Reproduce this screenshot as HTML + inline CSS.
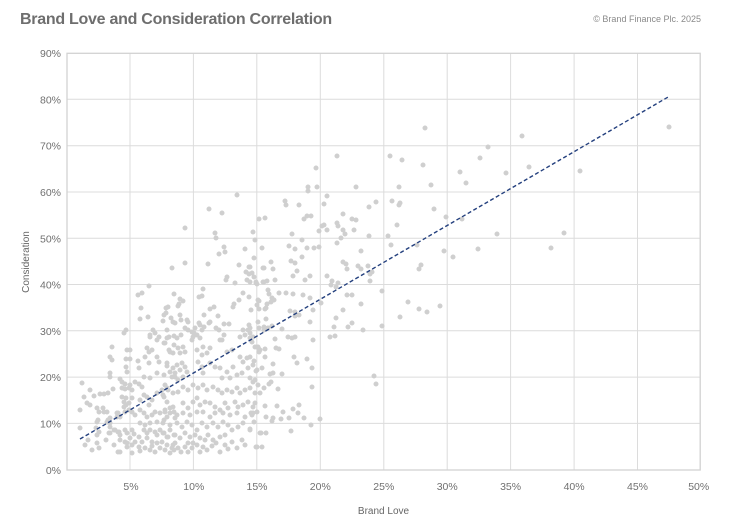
<!DOCTYPE html>
<html><head><meta charset="utf-8"><style>
html,body{margin:0;padding:0;background:#fff;}
svg{display:block;}
text{font-family:"Liberation Sans",Arial,sans-serif;}
</style></head><body>
<svg width="732" height="520" viewBox="0 0 732 520" xmlns="http://www.w3.org/2000/svg">
<rect width="732" height="520" fill="#fff"/>
<text x="20" y="24" font-size="16" font-weight="bold" letter-spacing="-0.27" fill="#6e6e6e">Brand Love and Consideration Correlation</text>
<text x="701" y="22" font-size="9" text-anchor="end" fill="#8a8a8a">© Brand Finance Plc. 2025</text>
<g stroke="#dcdcdc" stroke-width="1">
<line x1="67" y1="99.3" x2="700" y2="99.3"/>
<line x1="67" y1="145.7" x2="700" y2="145.7"/>
<line x1="67" y1="192" x2="700" y2="192"/>
<line x1="67" y1="238.3" x2="700" y2="238.3"/>
<line x1="67" y1="284.5" x2="700" y2="284.5"/>
<line x1="67" y1="330.8" x2="700" y2="330.8"/>
<line x1="67" y1="377.1" x2="700" y2="377.1"/>
<line x1="67" y1="423.4" x2="700" y2="423.4"/>
<line x1="130" y1="53" x2="130" y2="470"/>
<line x1="193.4" y1="53" x2="193.4" y2="470"/>
<line x1="256.8" y1="53" x2="256.8" y2="470"/>
<line x1="320.3" y1="53" x2="320.3" y2="470"/>
<line x1="383.8" y1="53" x2="383.8" y2="470"/>
<line x1="447.2" y1="53" x2="447.2" y2="470"/>
<line x1="510.6" y1="53" x2="510.6" y2="470"/>
<line x1="574.1" y1="53" x2="574.1" y2="470"/>
<line x1="637.5" y1="53" x2="637.5" y2="470"/>
</g>
<rect x="67" y="53.3" width="633.2" height="416.7" fill="none" stroke="#d2d2d2" stroke-width="1.3"/>
<g font-size="10.5" fill="#707070" text-anchor="end">
<text x="61" y="57">90%</text>
<text x="61" y="103.3">80%</text>
<text x="61" y="149.7">70%</text>
<text x="61" y="196">60%</text>
<text x="61" y="242.3">50%</text>
<text x="61" y="288.5">40%</text>
<text x="61" y="334.8">30%</text>
<text x="61" y="381.1">20%</text>
<text x="61" y="427.4">10%</text>
<text x="61" y="474">0%</text>
</g>
<g font-size="10.5" fill="#707070" text-anchor="middle">
<text x="131" y="490">5%</text>
<text x="193.8" y="490">10%</text>
<text x="257" y="490">15%</text>
<text x="320.3" y="490">20%</text>
<text x="383.8" y="490">25%</text>
<text x="447.2" y="490">30%</text>
<text x="510.6" y="490">35%</text>
<text x="574.1" y="490">40%</text>
<text x="637.5" y="490">45%</text>
<text x="698.7" y="490">50%</text>
</g>
<text x="383.5" y="514" font-size="10" fill="#666" text-anchor="middle">Brand Love</text>
<text x="0" y="0" font-size="10" fill="#666" text-anchor="middle" transform="translate(29 262) rotate(-90)">Consideration</text>
<path fill="none" stroke="#cfcfcf" stroke-width="5" stroke-linecap="round" d="
M669 127h.01M522 136h.01M488 147h.01M480 158h.01M460 172h.01M466 183h.01M506 173h.01M529 167h.01M580 171h.01M446 217h.01M462 219h.01M497 234h.01M444 251h.01M453 257h.01M478 249h.01M551 248h.01M564 233h.01M440 306h.01
M425 128h.01M337 156h.01M316 168h.01M390 156h.01M402 160h.01M423 165h.01M317 187h.01M356 187h.01M399 187h.01M431 185h.01M308 187h.01M308 191h.01M285 201h.01M286 205h.01M299 205h.01M327 196h.01M324 204h.01M369 207h.01M376 202h.01M392 201h.01M400 203h.01M399 205h.01M434 209h.01M259 219h.01M265 218h.01M253 232h.01M255 240h.01M304 219h.01M307 216h.01M311 216h.01M292 234h.01M302 240h.01M319 231h.01M322 226h.01M324 225h.01M327 230h.01M337 223h.01M338 226h.01M343 230h.01M345 234h.01M343 214h.01M352 219h.01M356 220h.01M354 230h.01M369 236h.01M397 225h.01M388 236h.01M391 245h.01M417 245h.01M419 269h.01M421 265h.01M262 248h.01M289 246h.01M295 249h.01M307 248h.01M314 248h.01M319 247h.01M337 243h.01M341 238h.01M254 258h.01M263 268h.01M273 269h.01M271 262h.01M291 261h.01M295 263h.01M302 257h.01M297 271h.01M293 276h.01M310 276h.01M305 280h.01M327 276h.01M332 281h.01M331 285h.01M338 283h.01M343 262h.01M346 264h.01M347 269h.01M361 251h.01M358 266h.01M361 269h.01M368 266h.01M372 272h.01M370 274h.01M370 281h.01M275 280h.01M263 282h.01M267 281h.01M256 282h.01M257 284h.01M250 267h.01M252 273h.01M254 277h.01
M268 290h.01M269 294h.01M272 298h.01M274 300h.01M271 302h.01M267 304h.01M265 309h.01M279 293h.01M286 293h.01M293 294h.01M303 295h.01M310 298h.01M321 303h.01M313 310h.01M336 287h.01M347 295h.01M352 295h.01M361 304h.01M343 310h.01M336 318h.01M334 327h.01M348 327h.01M352 323h.01M363 330h.01M330 337h.01M335 336h.01M382 291h.01M382 326h.01M408 302h.01M419 309h.01M427 312h.01M400 317h.01M374 376h.01M376 384h.01M320 419h.01M311 425h.01M291 431h.01M261 433h.01M266 433h.01M256 447h.01M262 447h.01M312 387h.01M312 368h.01M299 405h.01M304 418h.01M298 413h.01M293 409h.01M283 412h.01M289 418h.01M281 419h.01M277 406h.01M265 406h.01M266 417h.01M273 418h.01M272 421h.01M254 422h.01M253 413h.01M251 413h.01M255 403h.01M250 429h.01M264 388h.01M278 389h.01M269 384h.01M271 382h.01M273 373h.01M270 374h.01M282 374h.01M257 370h.01M256 371h.01M253 382h.01M255 380h.01M273 364h.01M265 357h.01M254 361h.01M294 357h.01M297 363h.01M307 359h.01M276 348h.01M279 349h.01M275 339h.01M265 349h.01M259 352h.01M255 347h.01M258 347h.01M259 349h.01M250 357h.01M313 340h.01M288 337h.01M292 338h.01M295 337h.01M282 329h.01M264 327h.01M268 328h.01M272 326h.01M258 322h.01M266 319h.01M250 328h.01M253 337h.01M250 338h.01M266 308h.01M251 310h.01M257 305h.01M258 300h.01M290 311h.01M295 312h.01M299 315h.01M295 316h.01M310 322h.01
M237 195h.01M209 209h.01M222 213h.01M185 228h.01
M215 233h.01M216 238h.01M224 247h.01M225 252h.01M219 254h.01M245 249h.01M253 232h.01M185 263h.01M172 268h.01M208 264h.01M239 265h.01M249 267h.01M264 268h.01M227 277h.01M226 280h.01M235 283h.01M246 272h.01M249 274h.01M247 280h.01M250 282h.01M256 283h.01M264 282h.01M149 286h.01M138 295h.01M142 293h.01M203 289h.01M202 296h.01M199 297h.01M174 294h.01M180 299h.01M183 301h.01M179 304h.01M178 306h.01M166 308h.01M168 307h.01M166 313h.01M141 308h.01M140 319h.01M148 317h.01M164 315h.01M163 321h.01M171 318h.01M173 322h.01M175 323h.01M181 320h.01M180 315h.01M187 320h.01M188 322h.01M174 336h.01M181 335h.01M210 309h.01M214 307h.01M204 315h.01M218 316h.01M234 304h.01M239 300h.01M243 293h.01M249 297h.01M259 301h.01M259 309h.01M233 307h.01M224 324h.01M229 324h.01M216 328h.01M209 323h.01M210 322h.01M204 327h.01M199 323h.01M200 325h.01M195 328h.01M202 330h.01M194 333h.01M197 335h.01M192 332h.01M188 330h.01M185 328h.01M167 330h.01M167 338h.01M177 338h.01M153 330h.01M150 335h.01M155 333h.01M159 337h.01M124 333h.01M126 330h.01M243 330h.01M249 325h.01M248 330h.01M240 337h.01M245 335h.01M250 333h.01M264 330h.01M259 328h.01M224 335h.01M220 340h.01M219 330h.01
M112 347h.01M127 350h.01M130 350h.01M110 357h.01M112 360h.01M126 359h.01M130 359h.01M138 361h.01M147 348h.01M149 352h.01M152 350h.01M145 357h.01M150 337h.01M157 340h.01M164 343h.01M169 337h.01M174 345h.01M169 350h.01M173 353h.01M157 357h.01M159 362h.01M149 363h.01M167 366h.01M173 368h.01M126 367h.01M139 368h.01M110 373h.01M110 377h.01M127 372h.01M144 377h.01M150 378h.01M157 373h.01M164 375h.01M170 372h.01M175 377h.01M120 379h.01M122 382h.01M125 384h.01M130 385h.01M135 382h.01M139 384h.01M142 387h.01M84 397h.01M94 396h.01M100 394h.01M104 394h.01M108 393h.01M113 389h.01M122 388h.01M125 389h.01M129 388h.01M132 390h.01M122 397h.01M126 398h.01M132 398h.01M144 395h.01M147 397h.01M140 400h.01M152 400h.01M149 405h.01M157 393h.01M162 390h.01M167 388h.01M164 397h.01M80 410h.01M87 403h.01M90 405h.01M97 408h.01M99 412h.01M124 402h.01M126 405h.01M129 403h.01M124 407h.01M129 410h.01M125 412h.01M117 413h.01M120 417h.01M110 418h.01M107 422h.01M132 412h.01M135 415h.01M140 410h.01M144 413h.01M147 417h.01M152 415h.01M155 412h.01M160 413h.01M165 410h.01M170 408h.01M174 412h.01M167 417h.01M175 418h.01M164 420h.01M157 422h.01M150 423h.01M145 425h.01M140 423h.01M97 422h.01M96 428h.01M99 432h.01M97 435h.01M110 427h.01M114 430h.01M109 433h.01M119 432h.01M120 435h.01M125 430h.01M127 433h.01M132 430h.01M134 434h.01M139 437h.01M130 438h.01M144 430h.01M147 433h.01M150 430h.01M155 432h.01M157 435h.01M160 430h.01M164 433h.01M167 437h.01M170 430h.01M174 435h.01M147 438h.01M152 442h.01M157 443h.01M162 442h.01M167 445h.01M172 448h.01M175 443h.01M85 445h.01M97 443h.01M99 448h.01M120 452h.01M125 442h.01M127 447h.01M132 445h.01M135 442h.01M139 447h.01M142 442h.01M145 448h.01M132 453h.01M150 450h.01M155 452h.01M160 448h.01M165 450h.01M170 453h.01M174 450h.01
M104 412h.01M98 420h.01M110 423h.01M110 433h.01M118 452h.01M118 432h.01M115 430h.01M120 440h.01M127 443h.01M118 413h.01M117 417h.01M103 408h.01M108 420h.01M107 412h.01M82 383h.01M90 390h.01M88 440h.01M80 428h.01M92 450h.01M106 440h.01M114 445h.01
M165 343h.01M170 352h.01M178 348h.01M183 347h.01M185 352h.01M180 353h.01M192 340h.01M193 337h.01M200 338h.01M203 347h.01M210 348h.01M197 350h.01M202 355h.01M207 353h.01M222 340h.01M227 352h.01M232 350h.01M240 357h.01M247 358h.01M252 342h.01M257 347h.01M260 350h.01M262 368h.01M243 362h.01M167 363h.01M177 365h.01M182 363h.01M185 367h.01M180 370h.01M187 372h.01M175 373h.01M172 377h.01M178 380h.01M183 377h.01M198 362h.01M202 367h.01M203 373h.01M210 363h.01M215 367h.01M220 368h.01M227 372h.01M222 378h.01M233 367h.01M237 375h.01M230 378h.01M242 373h.01M248 368h.01M253 365h.01M250 378h.01M258 385h.01M165 385h.01M168 390h.01M163 395h.01M173 393h.01M178 392h.01M183 387h.01M188 390h.01M193 385h.01M198 388h.01M203 385h.01M207 390h.01M213 387h.01M218 390h.01M222 393h.01M227 390h.01M232 392h.01M237 388h.01M240 393h.01M245 390h.01M250 388h.01M255 393h.01M260 393h.01M167 402h.01M173 407h.01M183 403h.01M188 408h.01M193 402h.01M197 398h.01M200 405h.01M205 402h.01M210 403h.01M215 407h.01M220 410h.01M225 403h.01M228 408h.01M235 402h.01M238 407h.01M243 405h.01M248 402h.01M253 407h.01M257 412h.01M252 415h.01M245 417h.01M237 413h.01M230 415h.01M223 413h.01M215 413h.01M210 417h.01M203 412h.01M197 412h.01M190 415h.01M183 413h.01M177 415h.01M170 413h.01M165 412h.01M163 423h.01M170 425h.01M177 423h.01M182 427h.01M187 422h.01M192 425h.01M197 430h.01M202 423h.01M207 427h.01M213 423h.01M218 427h.01M223 422h.01M228 425h.01M232 430h.01M238 427h.01M243 423h.01M250 430h.01M260 433h.01M163 433h.01M168 437h.01M175 435h.01M180 438h.01M185 433h.01M190 437h.01M195 435h.01M200 438h.01M208 435h.01M213 440h.01M220 437h.01M225 435h.01M232 442h.01M220 452h.01M237 448h.01M257 447h.01M262 447h.01M173 445h.01M178 448h.01M185 447h.01M192 448h.01M197 445h.01M203 447h.01M165 450h.01M200 452h.01
M181 452h.01M188 452h.01M193 443h.01M207 450h.01M212 446h.01M216 443h.01M225 445h.01M228 449h.01M242 440h.01M245 445h.01M140 451h.01M152 446h.01M205 440h.01M188 443h.01"/>
<line x1="80" y1="439" x2="669" y2="96.5" stroke="#24407e" stroke-width="1.4" stroke-dasharray="4 2.5"/>
</svg>
</body></html>
